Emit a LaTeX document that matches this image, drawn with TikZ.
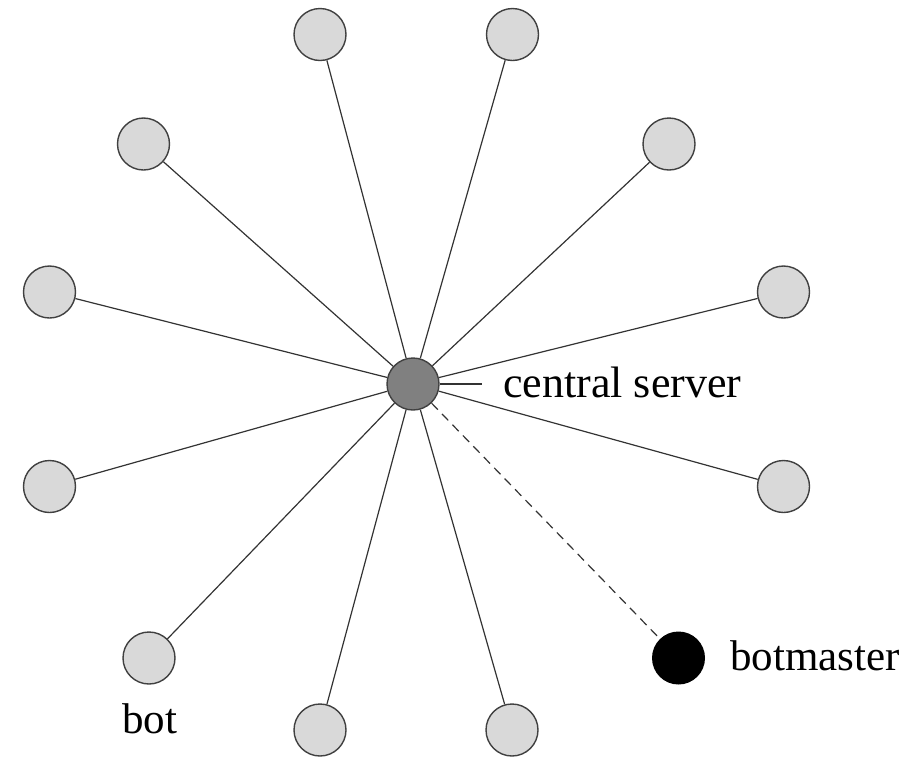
\documentclass[tikz,border=0pt]{standalone}
\usepackage{fontspec}
\setmainfont{Liberation Serif}
\begin{document}
\begin{tikzpicture}[x=1pt,y=-1pt,
  bot/.style={circle,draw=black!75,line width=1.4pt,fill=black!15,minimum size=52pt,inner sep=0pt},
  server/.style={circle,draw=black!75,line width=1.4pt,fill=black!50,minimum size=52pt,inner sep=0pt},
  master/.style={circle,fill=black,minimum size=53pt,inner sep=0pt},
  link/.style={draw=black!80,line width=1.2pt},
  lbl/.style={font=\fontsize{43}{50}\selectfont,inner sep=0pt,anchor=base west}]
  \useasboundingbox (0,0) rectangle (903,756);

  % central server and the bots around it
  \node[server] (srv) at (413,384) {};
  \node[bot] (b1)  at (320,34.5) {};
  \node[bot] (b2)  at (512.5,34.5) {};
  \node[bot] (b3)  at (143.5,144) {};
  \node[bot] (b4)  at (669,144) {};
  \node[bot] (b5)  at (49.5,292) {};
  \node[bot] (b6)  at (783.5,292) {};
  \node[bot] (b7)  at (49.5,486.5) {};
  \node[bot] (b8)  at (783.5,486.5) {};
  \node[bot] (b9)  at (149,658) {};
  \node[bot] (b10) at (320,730) {};
  \node[bot] (b11) at (512,730) {};
  \node[master] (bm) at (678.5,658) {};

  % star links
  \foreach \b in {b1,b2,b3,b4,b5,b6,b7,b8,b9,b10,b11}
    \draw[link] (srv) -- (\b);
  \draw[link,dash pattern=on 9pt off 6pt] (srv) -- (bm);

  % labels
  \node[lbl,font=\fontsize{44}{50}\selectfont] (cs) at (503,397) {central server};
  \coordinate (csl) at (482,384);
  \draw[link] (srv.east) -- (csl);
  \node[lbl] (bml) at (730,670) {botmaster};
  \node[lbl] (botl) at (122,733) {bot};
\end{tikzpicture}
\end{document}
